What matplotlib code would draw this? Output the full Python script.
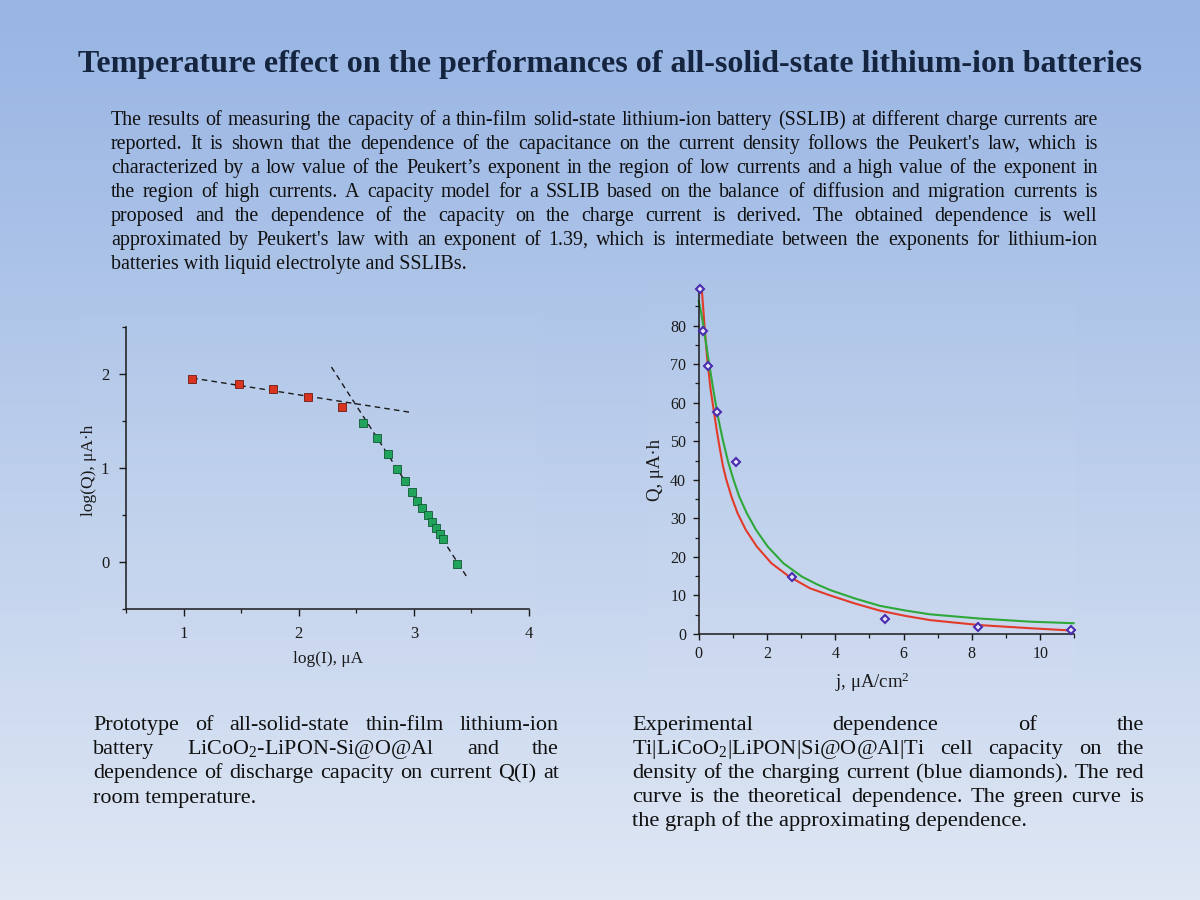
import numpy as np
import matplotlib
matplotlib.use("Agg")
import matplotlib.pyplot as plt
from matplotlib.ticker import MultipleLocator
from matplotlib.patches import Rectangle

plt.rcParams["font.family"] = ["Liberation Serif", "DejaVu Serif"]
plt.rcParams["mathtext.fontset"] = "custom"
plt.rcParams["mathtext.rm"] = "Liberation Serif"
plt.rcParams["mathtext.it"] = "Liberation Serif:italic"

# ---- left panel: log(Q) vs log(I) ----
low_logI = [1.075, 1.478, 1.777, 2.078, 2.380]
low_logQ = [1.947, 1.897, 1.840, 1.752, 1.649]
high_logI = [2.554, 2.678, 2.777, 2.855, 2.922, 2.980, 3.029, 3.075, 3.119,
             3.157, 3.191, 3.223, 3.255, 3.377]
high_logQ = [1.475, 1.316, 1.152, 0.989, 0.858, 0.745, 0.652, 0.574, 0.496,
             0.429, 0.365, 0.301, 0.245, -0.018]
low_fit_I = [1.075, 2.971]
low_fit_Q = [1.957, 1.592]
high_fit_I = [2.284, 3.472]
high_fit_Q = [2.074, -0.181]

# ---- right panel: Q vs j ----
j_exp = [0.049, 0.127, 0.264, 0.537, 1.084, 2.725, 5.45, 8.18, 10.91]
q_exp = [89.4, 78.5, 69.6, 57.7, 44.7, 14.8, 3.8, 1.8, 1.0]
j_theory = [0.09, 0.165, 0.243, 0.35, 0.45, 0.527, 0.62, 0.71, 0.80, 0.96,
            1.14, 1.38, 1.70, 2.13, 2.65, 3.26, 3.85, 4.58, 5.31, 6.05,
            6.78, 8.24, 9.71, 10.98]
q_theory = [89.5, 80.6, 72.0, 63.3, 57.5, 52.9, 48.0, 43.6, 40.3, 35.6,
            31.3, 27.0, 22.7, 18.35, 14.9, 11.85, 10.0, 7.9, 6.05, 4.7,
            3.6, 2.3, 1.5, 0.87]
j_approx = [0.0, 0.07, 0.135, 0.272, 0.43, 0.56, 0.70, 0.86, 1.02, 1.19,
            1.41, 1.68, 2.02, 2.48, 3.02, 3.46, 3.85, 4.58, 5.31, 6.05,
            6.78, 8.24, 9.71, 10.98]
q_approx = [86.4, 83.4, 80.2, 72.0, 63.3, 56.5, 50.6, 44.7, 40.0, 35.6,
            31.3, 27.0, 22.7, 18.35, 14.9, 12.9, 11.4, 9.2, 7.3, 6.1,
            5.1, 4.0, 3.2, 2.8]

title = "Temperature effect on the performances of all-solid-state lithium-ion batteries"
abstract = [
    "The results of measuring the capacity of a thin-film solid-state lithium-ion battery (SSLIB) at different charge currents are",
    "reported. It is shown that the dependence of the capacitance on the current density follows the Peukert's law, which is",
    "characterized by a low value of the Peukert\u2019s exponent in the region of low currents and a high value of the exponent in",
    "the region of high currents. A capacity model for a SSLIB based on the balance of diffusion and migration currents is",
    "proposed and the dependence of the capacity on the charge current is derived. The obtained dependence is well",
    "approximated by Peukert's law with an exponent of 1.39, which is intermediate between the exponents for lithium-ion",
    "batteries with liquid electrolyte and SSLIBs.",
]
left_caption = [
    "Prototype of all-solid-state thin-film lithium-ion",
    "battery LiCoO$_2$-LiPON-Si@O@Al and the",
    "dependence of discharge capacity on current Q(I) at",
    "room temperature.",
]
right_caption = [
    "Experimental dependence of the",
    "Ti|LiCoO$_2$|LiPON|Si@O@Al|Ti cell capacity on the",
    "density of the charging current (blue diamonds). The red",
    "curve is the theoretical dependence. The green curve is",
    "the graph of the approximating dependence.",
]

fig = plt.figure(figsize=(12, 9), dpi=100)

# slide background (pixel coordinates, y downwards)
bg = fig.add_axes([0, 0, 1, 1], zorder=-10)
top = np.array([151, 180, 227]) / 255
bottom = np.array([223, 231, 244]) / 255
t = np.linspace(0, 1, 256)[:, None, None]
grad = top * (1 - t) + bottom * t
bg.imshow(grad, extent=[0, 1200, 900, 0], aspect="auto")
bg.set_xlim(0, 1200)
bg.set_ylim(900, 0)
bg.axis("off")
bg.add_patch(Rectangle((80, 315), 457, 352, color="white", alpha=0.025, lw=0))
bg.add_patch(Rectangle((647, 285), 430, 412, color="white", alpha=0.025, lw=0))

renderer = fig.canvas.get_renderer()


def fit_size(text, width, size=12, **kw):
    probe = bg.text(0, 0, text, fontsize=size, **kw)
    w = probe.get_window_extent(renderer).width
    probe.remove()
    return size * width / w


def justified(lines, x0, x1, y0, dy, size, color="#111111"):
    for i, line in enumerate(lines):
        y = y0 + i * dy
        if i == len(lines) - 1:
            bg.text(x0, y, line, fontsize=size, color=color, va="baseline")
            continue
        words = line.split()
        items = [bg.text(0, y, w, fontsize=size, color=color, va="baseline") for w in words]
        widths = [it.get_window_extent(renderer).width for it in items]
        gap = (x1 - x0 - sum(widths)) / (len(words) - 1)
        x = x0
        for it, w in zip(items, widths):
            it.set_x(x)
            x += w + gap


# title, fitted to its width on the slide
tsize = fit_size(title, 1065, 22, fontweight="bold")
bg.text(610, 72, title, fontsize=tsize, fontweight="bold", color="#15243f",
        ha="center", va="baseline")

justified(abstract, 111, 1098, 125, 24, fit_size(abstract[0], 972))
justified(left_caption, 93, 559, 730, 24.2, fit_size(left_caption[2], 458))
justified(right_caption, 632, 1144, 730, 24.0, fit_size(right_caption[2], 504))


def frac(x0, y0, x1, y1):
    return [x0 / 1200, 1 - y1 / 900, (x1 - x0) / 1200, (y1 - y0) / 900]


def style_axes(ax, size):
    for s in ("top", "right"):
        ax.spines[s].set_visible(False)
    for s in ("left", "bottom"):
        ax.spines[s].set_linewidth(1.1)
        ax.spines[s].set_color("#1a1a1a")
    ax.set_facecolor("none")
    ax.tick_params(which="major", direction="out", length=5, width=1.0,
                   labelsize=size, colors="#1a1a1a")
    ax.tick_params(which="minor", direction="out", length=3, width=0.9, colors="#1a1a1a")


# left chart
ax1 = fig.add_axes(frac(126, 327, 529, 609))
style_axes(ax1, 12)
ax1.tick_params(axis="x", which="major", pad=7)
ax1.tick_params(axis="y", which="major", pad=7)
ax1.plot(low_fit_I, low_fit_Q, ls=(0, (4, 3)), color="#1a1a1a", lw=1.0, zorder=2)
ax1.plot(high_fit_I, high_fit_Q, ls=(0, (4, 3)), color="#1a1a1a", lw=1.0, zorder=2)
ax1.plot(low_logI, low_logQ, ls="none", marker="s", ms=5.6, mfc="#d8341f",
         mec="#6e1a10", mew=0.6, zorder=3)
ax1.plot(high_logI, high_logQ, ls="none", marker="s", ms=5.6, mfc="#22a35c",
         mec="#0f5a33", mew=0.6, zorder=3)
ax1.set_xlim(0.5, 4.0)
ax1.set_ylim(-0.5, 2.5)
ax1.xaxis.set_major_locator(MultipleLocator(1))
ax1.xaxis.set_minor_locator(MultipleLocator(0.5))
ax1.yaxis.set_major_locator(MultipleLocator(1))
ax1.yaxis.set_minor_locator(MultipleLocator(0.5))
bg.text(328, 659, "log(I), \u03bcA", fontsize=12.5, ha="center", va="center", color="#1a1a1a")
bg.text(89, 470, "log(Q), \u03bcA\u00b7h", fontsize=12.5, ha="center", va="center",
        rotation=90, color="#1a1a1a")

# right chart
ax2 = fig.add_axes(frac(698.7, 289, 1074.3, 634))
style_axes(ax2, 11.5)
ax2.tick_params(which="major", length=4, pad=5)
ax2.plot(j_theory, q_theory, color="#e23b2a", lw=1.5, solid_joinstyle="round",
         clip_on=False, zorder=2)
ax2.plot(j_approx, q_approx, color="#2fa83a", lw=1.5, solid_joinstyle="round",
         clip_on=False, zorder=2)
ax2.plot(j_exp, q_exp, ls="none", marker="D", ms=4.2, mfc="#e4e6f6", mec="#4a2cae",
         mew=1.5, clip_on=False, zorder=3)
ax2.set_xlim(0, 11)
ax2.set_ylim(0, 89.5)
ax2.xaxis.set_major_locator(MultipleLocator(2))
ax2.xaxis.set_minor_locator(MultipleLocator(1))
ax2.yaxis.set_major_locator(MultipleLocator(10))
ax2.yaxis.set_minor_locator(MultipleLocator(5))
bg.text(872, 682, "j, \u03bcA/cm$^2$", fontsize=13.5, ha="center", va="center", color="#1a1a1a")
bg.text(656, 470, "Q, \u03bcA\u00b7h", fontsize=13.5, ha="center", va="center",
        rotation=90, color="#1a1a1a")

fig.savefig("out.png", dpi=100)
